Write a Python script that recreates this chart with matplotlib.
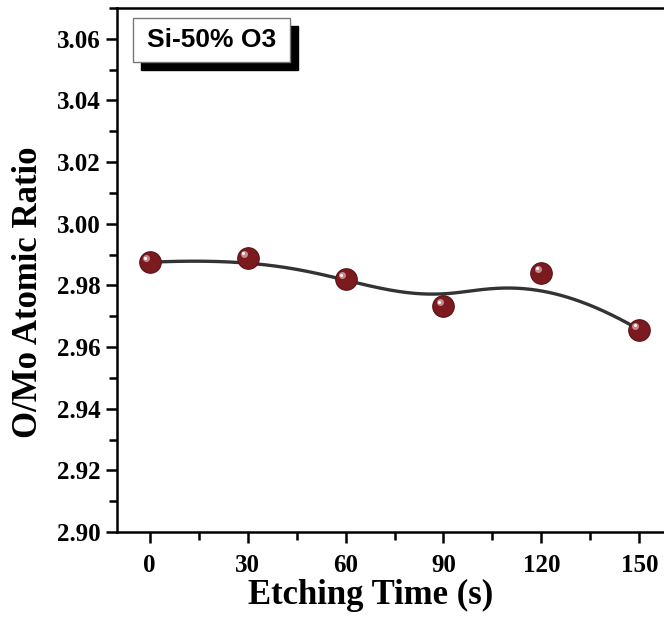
import numpy as np
import matplotlib
matplotlib.use("Agg")
from matplotlib import pyplot as plt
from matplotlib import transforms
from matplotlib.patches import Rectangle
from matplotlib.ticker import MultipleLocator

# data
etching_time = [0, 30, 60, 90, 120, 150]
ratio = [2.9875, 2.9890, 2.9821, 2.9733, 2.9841, 2.9656]
x_ticks = [0, 30, 60, 90, 120, 150]
y_ticks = [2.90, 2.92, 2.94, 2.96, 2.98, 3.00, 3.02, 3.04, 3.06]
label_text = "Si-50% O3"


def bspline(ctrl, degree=3, n=300):
    # clamped B-spline using the points as control points (Origin style)
    ctrl = np.asarray(ctrl, dtype=float)
    m = len(ctrl)
    inner = np.linspace(0, 1, m - degree + 1)[1:-1]
    knots = np.concatenate([np.zeros(degree + 1), inner, np.ones(degree + 1)])
    ts = np.linspace(0, 1, n)
    out = []
    for t in ts:
        k = np.searchsorted(knots, t, side="right") - 1
        k = min(k, m - 1)
        d = [ctrl[j + k - degree].copy() for j in range(degree + 1)]
        for r in range(1, degree + 1):
            for j in range(degree, r - 1, -1):
                i = j + k - degree
                den = knots[i + degree + 1 - r] - knots[i]
                a = 0 if den == 0 else (t - knots[i]) / den
                d[j] = (1 - a) * d[j - 1] + a * d[j]
        out.append(d[degree])
    return np.array(out)


plt.rcParams["font.family"] = ["Liberation Serif", "DejaVu Serif"]
plt.rcParams["font.weight"] = "bold"

fig = plt.figure(figsize=(6.64, 6.17), dpi=100)
ax = fig.add_axes([117 / 664, 85 / 617, 555 / 664, 524 / 617])

curve = bspline(np.column_stack([etching_time, ratio]))
ax.plot(curve[:, 0], curve[:, 1], color="#333333", lw=2.4, zorder=2)

# ball markers: dark red sphere plus a small highlight up-left
ax.plot(etching_time, ratio, "o", ms=15.5, color="#7b1a1f", mec="#5a1014",
        mew=0.8, zorder=3)
hl = transforms.offset_copy(ax.transData, fig=fig, x=-2.8, y=2.8, units="points")
ax.plot(etching_time, ratio, "o", ms=5, color="#c98a8d", mew=0,
        transform=hl, zorder=4)
hl2 = transforms.offset_copy(ax.transData, fig=fig, x=-3.1, y=3.1, units="points")
ax.plot(etching_time, ratio, "o", ms=2.2, color="white", mew=0,
        transform=hl2, zorder=5)

ax.set_xlim(-10, 160)
ax.set_ylim(2.90, 3.07)
ax.set_xticks(x_ticks)
ax.set_yticks(y_ticks)
ax.set_yticklabels([f"{v:.2f}" for v in y_ticks])
ax.xaxis.set_minor_locator(MultipleLocator(15))
ax.yaxis.set_minor_locator(MultipleLocator(0.01))

for s in ax.spines.values():
    s.set_linewidth(1.8)
ax.spines["right"].set_visible(False)
ax.tick_params(which="major", direction="out", length=8, width=1.8,
               labelsize=18, pad=4)
ax.tick_params(axis="x", which="major", pad=8)
ax.tick_params(which="minor", direction="out", length=5.5, width=1.8)
ax.tick_params(top=False, right=False)

ax.set_xlabel("Etching Time (s)", fontsize=25, fontweight="bold")
ax.set_ylabel("O/Mo Atomic Ratio", fontsize=25, fontweight="bold")
ax.xaxis.set_label_coords(0.457, -0.09)
ax.yaxis.set_label_coords(-0.13, 0.458)

# label box with drop shadow
ax.add_patch(Rectangle((0.0432, 0.8817), 0.283, 0.084, transform=ax.transAxes,
                       fc="black", ec="black", zorder=6))
ax.add_patch(Rectangle((0.0288, 0.8970), 0.283, 0.084, transform=ax.transAxes,
                       fc="white", ec="#777777", lw=1, zorder=7))
ax.text(0.170, 0.939, label_text, transform=ax.transAxes, ha="center",
        va="center", fontsize=19, fontweight="bold",
        family=["Liberation Sans", "DejaVu Sans"], color="black", zorder=8)

fig.savefig("out.png", dpi=100)
